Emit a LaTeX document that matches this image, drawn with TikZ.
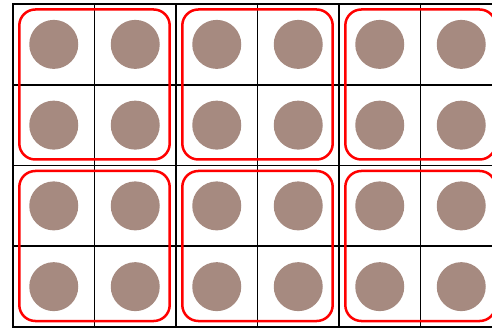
\documentclass[tikz,border=0pt]{standalone}
\begin{document}
\begin{tikzpicture}[x=1pt, y=-1pt]
  \definecolor{dotbrown}{RGB}{166,138,128}
  \tikzset{
    cell/.style={draw=black, line width=1.9pt},
    dot/.style={circle, fill=dotbrown, minimum size=49pt, inner sep=0pt},
    group/.style={draw=red, line width=2.5pt, rounded corners=16pt}
  }
  \useasboundingbox (0,0) rectangle (492,328);
  \clip (0,0) rectangle (492,328);
  \fill[white] (0,0) rectangle (492,328);
  % 6x4 cells, one dot each
  \foreach \i in {0,...,5} \foreach \j in {0,...,3} {
    \draw[cell] (13+81.5*\i, 4+80.75*\j) rectangle ++(81.5,80.75);
    \node[dot] (d\i\j) at (53.75+81.5*\i, 44.4+80.75*\j) {};
  }
  % 2x2 groups
  \foreach \i in {0,1,2} \foreach \j in {0,1} {
    \draw[group] (19.3+163*\i, 9.5+161.5*\j) rectangle ++(150.4,150);
  }
\end{tikzpicture}
\end{document}
